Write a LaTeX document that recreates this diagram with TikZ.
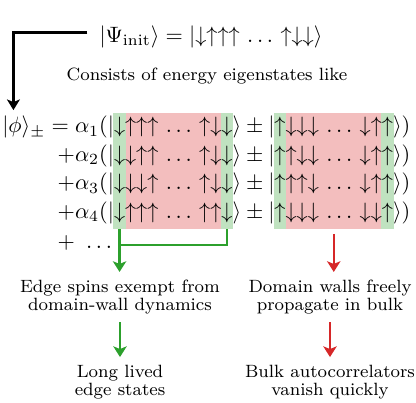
\documentclass[tikz,border=0pt]{standalone}
\usepackage{amsmath}
\usepackage{amssymb}
\usetikzlibrary{arrows.meta}
\usetikzlibrary{calc}
\usetikzlibrary{backgrounds}

\definecolor{edgegreen}{RGB}{44,160,44}
\definecolor{bulkred}{RGB}{214,39,40}
\newcommand{\spinup}{{\uparrow}}
\newcommand{\spindn}{{\downarrow}}

\begin{document}
\begin{tikzpicture}[x = 0.45pt, y = -0.45pt,
        eq/.style = {inner sep=0pt, outer sep=0pt},
        note/.style = {font=\footnotesize, align=center},
        edgeline/.style = {edgegreen, line width=1pt},
        bulkline/.style = {bulkred, line width=1pt},
        headarrow/.style = {-{Stealth[length=4.8pt, width=6pt, inset=1.2pt]}}]
            \useasboundingbox (0,0) rectangle (416,403);

            % initial state
            \node[eq, anchor=base] (init) at (211,42.5) {$|\Psi_{\mathrm{init}}\rangle = |\spindn\spinup\spinup\spinup\,\ldots\,\spinup\spindn\spindn\rangle$};
            \node[note, anchor=base] (like) at (207,81) {Consists of energy eigenstates like};

            % eigenstates, one row per term
            \node[eq, anchor=base east] (pre1) at (114,133) {$|\phi\rangle_\pm = \alpha_1(|$};
            \node[eq, anchor=base west] (lk1) at (pre1.base east) {$\spindn\spinup\spinup\spinup\,\ldots\,\spinup\spindn\spindn$};
            \node[eq, anchor=base west] (mid1) at (lk1.base east) {$\rangle \pm |$};
            \node[eq, anchor=base west] (rk1) at (mid1.base east) {$\spinup\spindn\spindn\spindn\,\ldots\,\spindn\spinup\spinup$};
            \node[eq, anchor=base west] (post1) at (rk1.base east) {$\rangle)$};

            \node[eq, anchor=base east] (pre2) at (114,161.5) {$+\alpha_2(|$};
            \node[eq, anchor=base west] (lk2) at (pre2.base east) {$\spindn\spindn\spinup\spinup\,\ldots\,\spinup\spindn\spindn$};
            \node[eq, anchor=base west] (mid2) at (lk2.base east) {$\rangle \pm |$};
            \node[eq, anchor=base west] (rk2) at (mid2.base east) {$\spinup\spinup\spindn\spindn\,\ldots\,\spindn\spinup\spinup$};
            \node[eq, anchor=base west] (post2) at (rk2.base east) {$\rangle)$};

            \node[eq, anchor=base east] (pre3) at (114,190) {$+\alpha_3(|$};
            \node[eq, anchor=base west] (lk3) at (pre3.base east) {$\spindn\spindn\spindn\spinup\,\ldots\,\spinup\spindn\spindn$};
            \node[eq, anchor=base west] (mid3) at (lk3.base east) {$\rangle \pm |$};
            \node[eq, anchor=base west] (rk3) at (mid3.base east) {$\spinup\spinup\spinup\spindn\,\ldots\,\spindn\spinup\spinup$};
            \node[eq, anchor=base west] (post3) at (rk3.base east) {$\rangle)$};

            \node[eq, anchor=base east] (pre4) at (114,218.5) {$+\alpha_4(|$};
            \node[eq, anchor=base west] (lk4) at (pre4.base east) {$\spindn\spinup\spinup\spinup\,\ldots\,\spinup\spinup\spindn$};
            \node[eq, anchor=base west] (mid4) at (lk4.base east) {$\rangle \pm |$};
            \node[eq, anchor=base west] (rk4) at (mid4.base east) {$\spinup\spindn\spindn\spindn\,\ldots\,\spindn\spindn\spinup$};
            \node[eq, anchor=base west] (post4) at (rk4.base east) {$\rangle)$};

            \node[eq, anchor=base west] (more) at (pre4.base west |- 0,248) {$+\ \ldots$};

            % edge and bulk shading
            \begin{scope}[on background layer]
                \fill[edgegreen!30] ($(lk1.north west)+(-0.3pt,2pt)$) rectangle ($(lk4.south west)+(5.3pt,-3pt)$);
                \fill[bulkred!30] ($(lk1.north west)+(5.3pt,2pt)$) rectangle ($(lk4.south east)+(-5.3pt,-3pt)$);
                \fill[edgegreen!30] ($(lk1.north east)+(-5.3pt,2pt)$) rectangle ($(lk4.south east)+(0.3pt,-3pt)$);
                \fill[edgegreen!30] ($(rk1.north west)+(-0.3pt,2pt)$) rectangle ($(rk4.south west)+(5.3pt,-3pt)$);
                \fill[bulkred!30] ($(rk1.north west)+(5.3pt,2pt)$) rectangle ($(rk4.south east)+(-5.3pt,-3pt)$);
                \fill[edgegreen!30] ($(rk1.north east)+(-5.3pt,2pt)$) rectangle ($(rk4.south east)+(0.3pt,-3pt)$);
            \end{scope}

            % consequences
            \node[note] (edge) at (120,297) {Edge spins exempt from\\[-1.3pt]domain-wall dynamics};
            \node[note] (walls) at (330,297) {Domain walls freely\\[-1.3pt]propagate in bulk};
            \node[note] (life) at (120,382) {Long lived\\[-1.3pt]edge states};
            \node[note] (bulk) at (330,382) {Bulk autocorrelators\\[-1.3pt]vanish quickly};

            \draw[line width=1.35pt, -{Stealth[length=4.8pt, width=5.8pt, inset=1.2pt]}] ($(init.west)+(-5.5pt,1.8pt)$) -| ($(pre1.north west)+(5pt,2.8pt)$);

            \coordinate (gl) at ($(lk4.south west)+(2.5pt,-3pt)$);
            \coordinate (gr) at ($(lk4.south east)+(-2.5pt,-3pt)$);
            \draw[edgeline] (gr) -- (gr |- 0,245) -- (gl |- 0,245);
            \draw[edgeline, headarrow] (gl) -- (gl |- edge.north);
            \coordinate (rb) at ($(rk4.south)+(0,-5pt)$);
            \draw[bulkline, headarrow] (rb) -- (rb |- walls.north);
            \draw[edgeline, headarrow] (edge) -- (life);
            \draw[bulkline, headarrow] (walls) -- (bulk);

        \end{tikzpicture}
\end{document}
